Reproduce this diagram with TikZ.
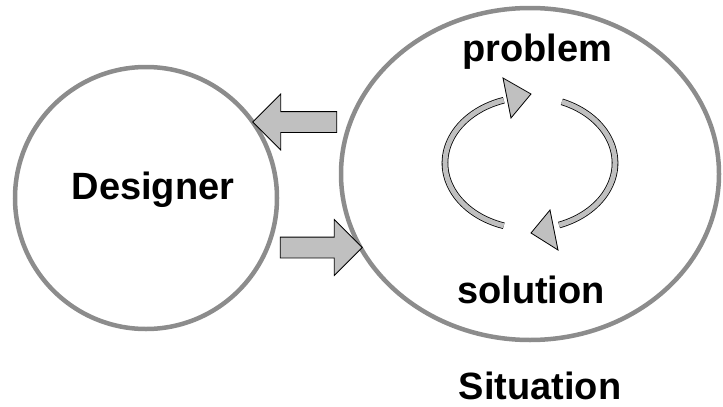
\documentclass[tikz,border=0pt]{standalone}
\usepackage{fontspec}
\setmainfont{Liberation Sans}
\usetikzlibrary{shapes.arrows}

\definecolor{ringgray}{HTML}{8C8C8C}
\definecolor{arrowgray}{HTML}{C0C0C0}

\tikzset{
  bigring/.style={draw=ringgray, line width=4.5pt},
  blockarrow/.style={single arrow, draw=black, fill=arrowgray, line width=0.8pt,
    inner xsep=0pt, inner ysep=10pt, single arrow head extend=17.5pt,
    minimum height=84pt},
  cyclearc/.style={draw=black, line width=0.8pt, double=arrowgray, double distance=5pt},
  cyclehead/.style={draw=black, fill=arrowgray, line width=0.8pt},
  label/.style={font=\bfseries\fontsize{38}{44}\selectfont, inner sep=0pt}
}

\begin{document}
\begin{tikzpicture}[x=1pt, y=-1pt]

\useasboundingbox (0,0) rectangle (723,407);

% the two rings
\draw[bigring] (146,198) circle[radius=131];
\draw[bigring] (530,174) ellipse[x radius=189, y radius=166];

\node[label] (designer) at (153,190) {Designer};
\node[label] (problem) at (537,52) {problem};
\node[label] (solution) at (531,290) {solution};
\node[label] (situation) at (540,386) {Situation};

% block arrows between designer and situation
\node[blockarrow, shape border rotate=180] (toleft) at (300,122) {};
\node[blockarrow, minimum height=82pt] (toright) at (316,247.5) {};

% the cycle
\draw[cyclearc] (530,163) ++(108:85 and 66) arc[start angle=108, end angle=252, x radius=85, y radius=66];
\draw[cyclearc] (530,163) ++(-68:85 and 66) arc[start angle=-68, end angle=70, x radius=85, y radius=66];

\path[cyclehead] (503,78) -- (531,94) -- (511,118) -- cycle;
\path[cyclehead] (550,210) -- (531,233) -- (558,250) -- cycle;

\end{tikzpicture}
\end{document}
